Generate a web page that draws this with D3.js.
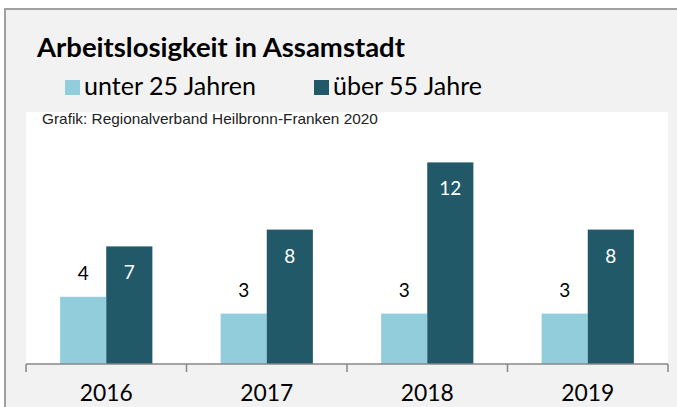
<!DOCTYPE html>
<html><head><meta charset="utf-8">
<script src="https://cdn.jsdelivr.net/npm/d3@7"></script>
<style>body{margin:0;background:#fff;overflow:hidden}svg{display:block}</style>
</head><body>
<svg id="c" width="677" height="407"></svg>
<script>
const years = ["2016","2017","2018","2019"];
const under25 = [4,3,3,3];
const over55 = [7,8,12,8];
const seriesNames = ["unter 25 Jahren","über 55 Jahre"];
const colors = ["#92CDDC","#215968"];
const title = "Arbeitslosigkeit in Assamstadt";
const source = "Grafik: Regionalverband Heilbronn-Franken 2020";

const svg = d3.select("#c");
const F = "Lato, 'Open Sans', sans-serif";

function fit(sel, w){ const n=sel.node(); const cur=n.getComputedTextLength(); const fs=parseFloat(sel.attr("font-size")); sel.attr("font-size", fs*w/cur); }

// outer frame
svg.append("rect").attr("x",0).attr("y",0).attr("width",677).attr("height",407).attr("fill","#fff");
svg.append("rect").attr("x",5).attr("y",9).attr("width",690).attr("height",420).attr("fill","#f2f2f2").attr("stroke","#a0a0a0").attr("stroke-width",2);

// plot area
const x0 = d3.scaleBand().domain(years).range([26,668]).paddingInner(0).paddingOuter(0);
const y = d3.scaleLinear().domain([0,15]).range([364,112]);
svg.append("rect").attr("x",26).attr("y",112).attr("width",642).attr("height",252).attr("fill","#fff");

const title_t = svg.append("text").attr("x",37).attr("y",57).attr("font-family",F).attr("font-weight","bold").attr("font-size",22).attr("fill","#000").text(title);
fit(title_t, 368);

// legend
const legX = [65,314];
seriesNames.forEach((s,i)=>{
  svg.append("rect").attr("x",legX[i]).attr("y",80).attr("width",15).attr("height",15).attr("fill",colors[i]);
  const t = svg.append("text").attr("x",legX[i]+19).attr("y",95).attr("font-family",F).attr("font-size",22).attr("fill","#000").text(s);
  fit(t, i===0?172:149);
});

const src = svg.append("text").attr("x",42).attr("y",124).attr("font-family","'Liberation Sans', Arial, sans-serif").attr("font-size",13).attr("fill","#222").text(source);
fit(src, 336);

// bars
const x1 = d3.scaleBand().domain([0,1]).range([0, x0.bandwidth()]).paddingOuter(0.74).paddingInner(0);
const data = years.map((yr,i)=>({yr, vals:[under25[i], over55[i]]}));
const g = svg.selectAll("g.grp").data(data).join("g").attr("transform",d=>`translate(${x0(d.yr)},0)`);
g.selectAll("rect").data(d=>d.vals.map((v,k)=>({v,k}))).join("rect")
  .attr("x",d=>x1(d.k)).attr("width",x1.bandwidth())
  .attr("y",d=>y(d.v)).attr("height",d=>y(0)-y(d.v)).attr("fill",d=>colors[d.k]);
g.selectAll("text.lbl").data(d=>d.vals.map((v,k)=>({v,k}))).join("text").attr("class","lbl")
  .attr("x",d=>x1(d.k)+x1.bandwidth()/2)
  .attr("y",d=>d.k===0 ? y(d.v)-17 : y(d.v)+33)
  .attr("text-anchor","middle").attr("font-family",F).attr("font-size",19)
  .attr("fill",d=>d.k===0?"#000":"#fff").text(d=>d.v);

// axis
const ax = svg.append("g").attr("transform","translate(0,364)");
ax.append("line").attr("x1",26).attr("x2",668).attr("stroke","#878787").attr("stroke-width",1.5);
const tickXs = years.map(yr=>x0(yr)).concat([x0(years[years.length-1])+x0.bandwidth()]);
ax.selectAll("line.t").data(tickXs).join("line").attr("class","t").attr("x1",d=>d).attr("x2",d=>d).attr("y1",0).attr("y2",8).attr("stroke","#878787").attr("stroke-width",1.5);
ax.selectAll("text").data(years).join("text").attr("x",d=>x0(d)+x0.bandwidth()/2).attr("y",37)
  .attr("text-anchor","middle").attr("font-family",F).attr("font-size",25).attr("fill","#000").text(d=>d)
  .each(function(){ fit(d3.select(this),53); });
</script>
</body></html>
